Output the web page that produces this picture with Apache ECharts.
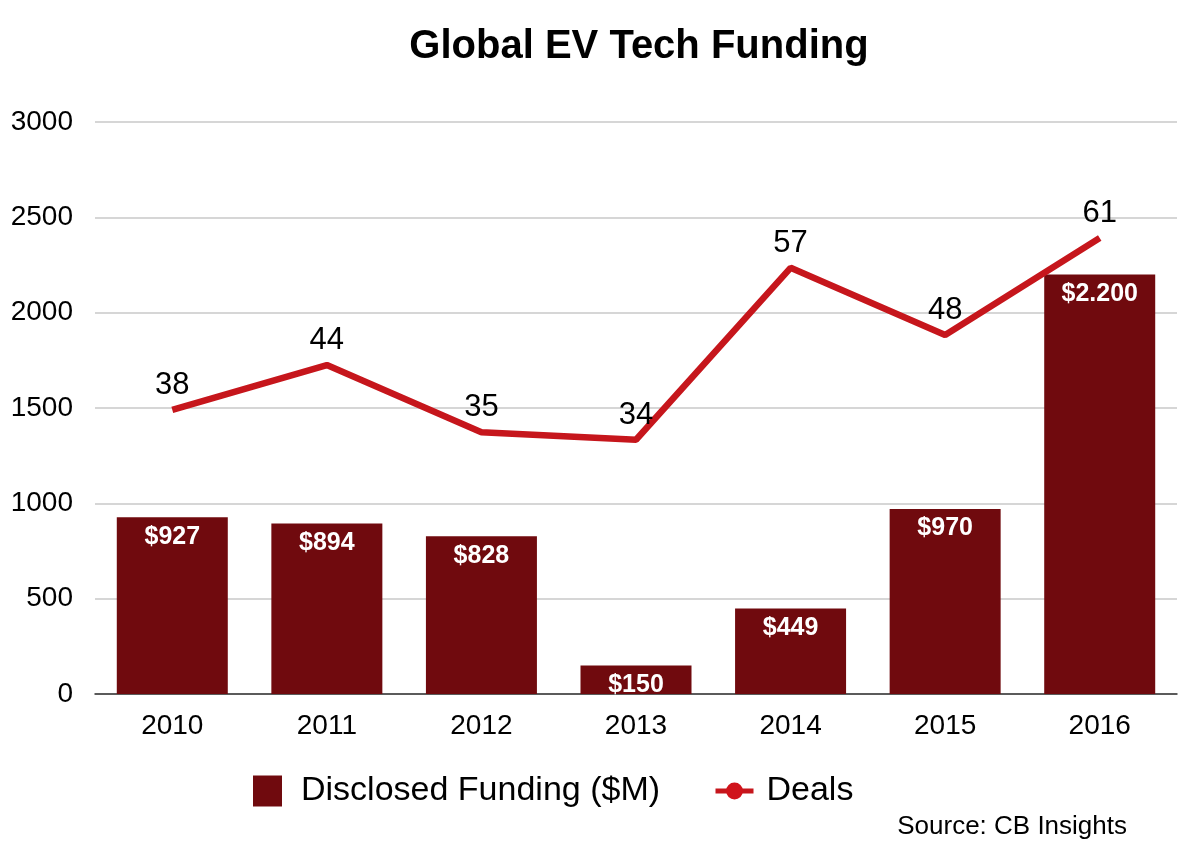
<!DOCTYPE html>
<html><head><meta charset="utf-8">
<script src="https://cdn.jsdelivr.net/npm/echarts@6/dist/echarts.min.js"></script>
<style>html,body{margin:0;padding:0;background:#fff}#c{width:1200px;height:854px}</style>
</head><body><div id="c"></div>
<script>
const years = ['2010','2011','2012','2013','2014','2015','2016'];
const funding = [927, 894, 828, 150, 449, 970, 2200];
const deals = [38, 44, 35, 34, 57, 48, 61];
const yTicks = [0, 500, 1000, 1500, 2000, 2500, 3000];

function fmtMoney(v){
  return '$' + String(v).replace(/\B(?=(\d{3})+(?!\d))/g, '.');
}
const FF = 'Liberation Sans, Arial, sans-serif';
const chart = echarts.init(document.getElementById('c'));
chart.setOption({
  animation:false,
  textStyle:{fontFamily:FF},
  title:{text:'Global EV Tech Funding', top:22, left:634, textAlign:'center',
    textStyle:{fontSize:40, fontWeight:'bold', color:'#000', fontFamily:FF}},
  graphic:[{type:'text', right:73, top:814, style:{text:'Source: CB Insights', fontSize:26, fill:'#000', fontFamily:FF}}],
  legend:[
    {left:248, top:769, itemGap:0, itemWidth:29, itemHeight:31,
     textStyle:{fontSize:34, color:'#000', fontFamily:FF, padding:[0,0,0,14]},
     data:[{name:'Disclosed Funding ($M)', icon:'rect'}]},
    {left:708, top:769, itemGap:0, itemWidth:38, itemHeight:21,
     textStyle:{fontSize:34, color:'#000', fontFamily:FF, padding:[0,0,0,8]},
     lineStyle:{width:5},
     data:[{name:'Deals'}]}
  ],
  grid:{left:95, right:23, top:122, bottom:160},
  xAxis:{type:'category', data:years,
    axisLine:{lineStyle:{color:'#333', width:1.5}}, axisTick:{show:false},
    axisLabel:{fontSize:28, color:'#000', margin:18}},
  yAxis:[{type:'value', min:yTicks[0], max:yTicks[yTicks.length-1], interval:500,
    axisLabel:{fontSize:28, color:'#000', margin:22, formatter:v=>String(v)},
    splitLine:{lineStyle:{color:'#c8c8c8', width:1.5}}, axisLine:{show:false}, axisTick:{show:false}},
    {type:'value', min:0, max:76.5, show:false, splitLine:{show:false}}],
  series:[
    {name:'Disclosed Funding ($M)', type:'bar', data:funding, barWidth:111, itemStyle:{color:'#700a0e'},
      label:{show:true, position:'insideTop', distance:7, color:'#fff', fontWeight:'bold', fontSize:25,
        formatter:p=>fmtMoney(p.value)}},
    {name:'Deals', type:'line', yAxisIndex:1, data:deals, symbol:'circle', symbolSize:0.01, showSymbol:true,
      lineStyle:{color:'#c6161c', width:6.5}, itemStyle:{color:'#d0131b'},
      label:{show:true, position:'top', distance:9, fontSize:31, color:'#000'}, z:5}
  ]
});
</script></body></html>
